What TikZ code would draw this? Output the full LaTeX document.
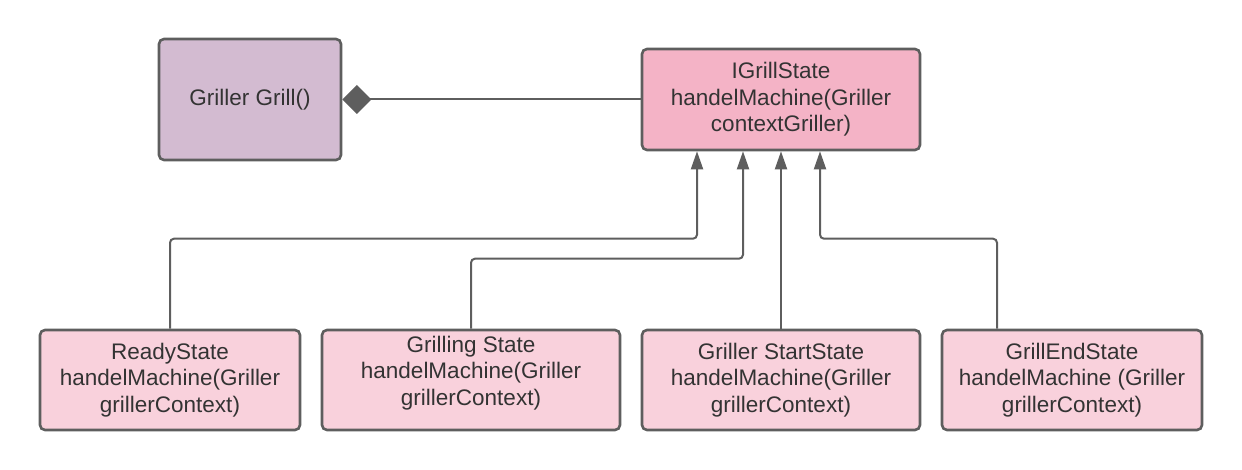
\documentclass[tikz,border=0pt]{standalone}
\usepackage{fontspec}
\setmainfont{Liberation Sans}
\usetikzlibrary{arrows.meta}
\definecolor{edge}{HTML}{5E5E5E}
\definecolor{txt}{HTML}{333333}
\definecolor{purp}{HTML}{D3BBD1}
\definecolor{pinkA}{HTML}{F4B3C6}
\definecolor{pinkB}{HTML}{F9D1DC}
\tikzset{
  box/.style={draw=edge, line width=2.6pt, rounded corners=5pt, inner sep=0pt,
    align=center, text=txt, font=\fontsize{22.5}{26.6}\selectfont},
  lbl/.style={align=center, text=txt, inner sep=0pt, font=\fontsize{22.5}{26.6}\selectfont},
  conn/.style={draw=edge, line width=2pt, rounded corners=4pt},
  arr/.style={conn, -{Triangle[length=18pt,width=12pt]}},
  agg/.style={draw=edge, line width=2pt, {Diamond[length=29pt,width=29pt,fill=edge]}-},
}
\begin{document}
\begin{tikzpicture}[x=1pt,y=-1pt]
\useasboundingbox (0,0) rectangle (1242,470);
\node[box, fill=purp, minimum width=182pt, minimum height=121pt] (gr) at (250,99.5) {Griller Grill()};
\node[box, fill=pinkA, minimum width=278pt, minimum height=101pt] (ig) at (781,99.5)
  {IGrillState\\handelMachine(Griller\\contextGriller)};
\node[box, fill=pinkB, minimum width=260pt, minimum height=100pt] (r) at (170,380)
  {ReadyState\\handelMachine(Griller\\grillerContext)};
\node[box, fill=pinkB, minimum width=298pt, minimum height=100pt] (g) at (471,380) {};
\node[lbl] (gt) at (471,373) {Grilling State\\handelMachine(Griller\\grillerContext)};
\node[box, fill=pinkB, minimum width=278pt, minimum height=100pt] (s) at (781,380)
  {Griller StartState\\handelMachine(Griller\\grillerContext)};
\node[box, fill=pinkB, minimum width=260pt, minimum height=100pt] (e) at (1072,380)
  {GrillEndState\\handelMachine (Griller\\grillerContext)};
\coordinate (t1) at ([xshift=-84pt]ig.south);
\coordinate (t2) at ([xshift=-38pt]ig.south);
\coordinate (t4) at ([xshift=39pt]ig.south);
\coordinate (e0) at ([xshift=-75pt]e.north);
\draw[agg] (gr.east) -- (ig.west);
\draw[arr] (r.north) -- ++(0,-90) -| (t1);
\draw[arr] (g.north) -- ++(0,-70) -| (t2);
\draw[arr] (s.north) -- (ig.south);
\draw[arr] (e0) -- ++(0,-90) -| (t4);
\end{tikzpicture}
\end{document}
